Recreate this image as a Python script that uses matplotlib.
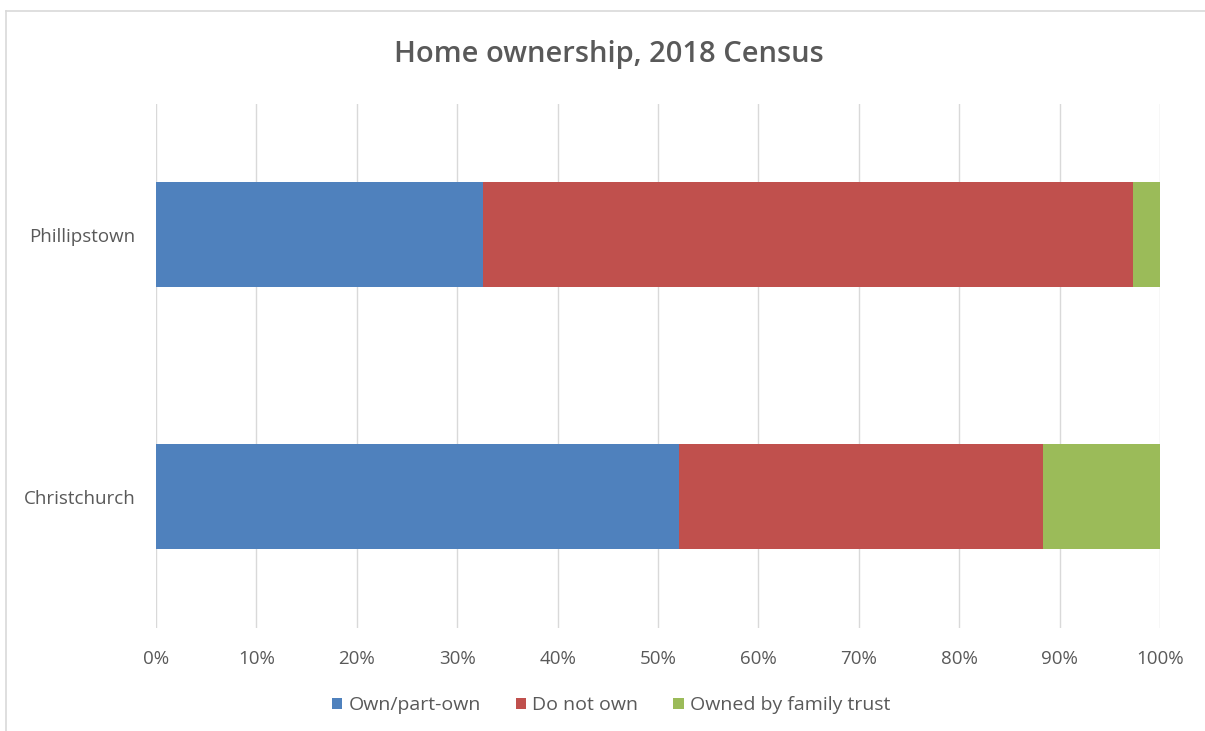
import matplotlib.pyplot as plt
from matplotlib.patches import Patch
from matplotlib.lines import Line2D
from matplotlib.ticker import PercentFormatter

# Share of households by tenure, 2018 Census (percent)
areas = ["Christchurch", "Phillipstown"]
own = [52.1, 32.6]
do_not_own = [36.2, 64.7]
family_trust = [11.7, 2.7]

series_names = ["Own/part-own", "Do not own", "Owned by family trust"]
colors = ["#4f81bd", "#c0504d", "#9bbb59"]
text_grey = "#595959"

plt.rcParams["font.family"] = ["Open Sans", "DejaVu Sans"]

fig = plt.figure(figsize=(12.05, 7.31), dpi=100)
ax = fig.add_axes([0.1295, 0.141, 0.8332, 0.717])

left = [0.0] * len(areas)
for vals, name, col in zip([own, do_not_own, family_trust], series_names, colors):
    ax.barh(areas, vals, left=left, height=0.4, color=col, label=name, zorder=3)
    left = [l + v for l, v in zip(left, vals)]

ax.set_xlim(0, 100)
ax.set_ylim(-0.5, 1.5)
ax.set_xticks(range(0, 101, 10))
ax.xaxis.set_major_formatter(PercentFormatter(decimals=0))
ax.grid(axis="x", color="#d9d9d9", linewidth=1, zorder=0)
for s in ax.spines.values():
    s.set_visible(False)
ax.tick_params(axis="both", length=0, colors=text_grey, labelsize=13.5)
ax.tick_params(axis="x", pad=16)
ax.tick_params(axis="y", pad=15)

fig.text(0.505, 0.925, "Home ownership, 2018 Census", ha="center", va="center",
         fontsize=21, fontweight="semibold", color=text_grey)

handles = [Patch(facecolor=c, edgecolor="none") for c in colors]
fig.legend(handles, series_names, loc="center", bbox_to_anchor=(0.507, 0.035),
           ncol=3, frameon=False, fontsize=14, labelcolor=text_grey,
           handlelength=0.55, handleheight=0.55, handletextpad=0.3,
           columnspacing=1.8)

# light chart-area border along the top and left edges
fig.add_artist(Line2D([0.005, 1.0], [0.985, 0.985], color="#d9d9d9", linewidth=1.2,
                      transform=fig.transFigure))
fig.add_artist(Line2D([0.005, 0.005], [0.0, 0.985], color="#d9d9d9", linewidth=1.2,
                      transform=fig.transFigure))

fig.savefig("out.png", dpi=100, facecolor="white")
